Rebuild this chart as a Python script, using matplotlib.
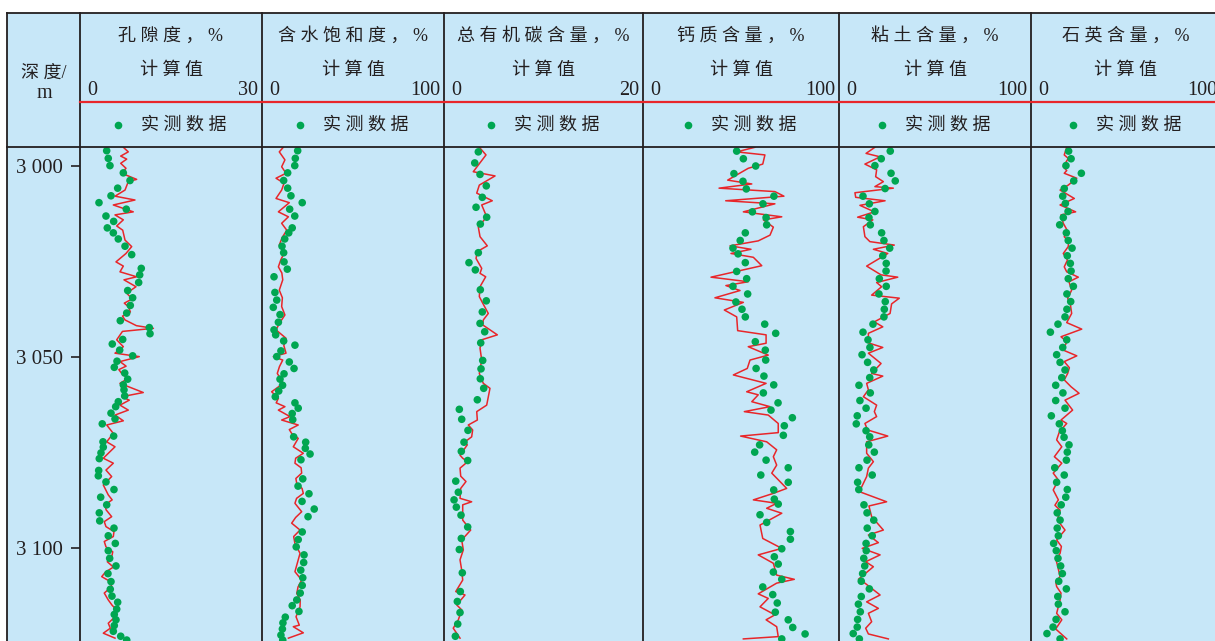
import matplotlib
matplotlib.use('Agg')
import matplotlib.pyplot as plt
from matplotlib.lines import Line2D
from matplotlib.patches import Rectangle

# Fonts: serif digits, CJK falls back to Noto Sans CJK
plt.rcParams['font.family'] = ['Liberation Serif', 'Noto Sans CJK SC']

# ---------------- data (depth in m, values in %) ----------------
# porosity
poro_dot_depth = [2996.0, 2998.0, 2999.9, 3001.8, 3003.8, 3005.8, 3007.8, 3009.6, 3011.3, 3013.1,
                  3014.5, 3016.2, 3017.5, 3019.1, 3021.0, 3023.2, 3026.8, 3028.5, 3030.5, 3032.6,
                  3034.5, 3036.5, 3038.5, 3040.5, 3042.3, 3043.9, 3045.4, 3046.6, 3048.2, 3049.7,
                  3051.1, 3052.7, 3054.2, 3055.8, 3057.3, 3058.6, 3060.2, 3061.7, 3063.0, 3064.7,
                  3066.2, 3067.5, 3070.7, 3072.2, 3073.6, 3075.1, 3076.6, 3079.7, 3081.1, 3082.7,
                  3084.7, 3086.7, 3088.7, 3090.8, 3092.9, 3094.8, 3096.8, 3098.8, 3100.7, 3102.7,
                  3104.7, 3106.7, 3108.8, 3110.8, 3112.6, 3114.2, 3116.0, 3117.4, 3118.8, 3120.3,
                  3121.8, 3123.1, 3124.1]
poro_dot = [4.40, 4.66, 4.94, 7.14, 8.24, 6.21, 5.11, 3.13, 7.63, 4.28,
            5.55, 4.50, 5.49, 6.31, 7.42, 8.52, 10.10, 9.84, 9.67, 7.86,
            8.68, 8.29, 7.70, 6.64, 11.42, 11.54, 7.04, 5.32, 6.54, 8.68,
            6.10, 5.65, 7.37, 7.86, 7.14, 7.25, 7.37, 6.31, 5.88, 5.11,
            5.77, 3.67, 5.55, 3.79, 3.84, 3.46, 3.18, 3.08, 3.02, 4.28,
            5.60, 3.41, 4.40, 3.18, 3.25, 5.60, 4.66, 5.82, 4.66, 4.89,
            5.93, 4.61, 5.11, 4.99, 5.27, 6.21, 6.05, 5.65, 5.93, 5.65,
            5.49, 6.71, 7.70]
poro_line_depth = [2995.1, 2996.3, 2997.4, 2998.2, 2999.3, 3000.6, 3001.9, 3003.5, 3004.1, 3006.3,
                   3007.9, 3008.9, 3010.2, 3012.0, 3012.8, 3014.1, 3015.7, 3016.8, 3019.4, 3021.1,
                   3022.9, 3025.1, 3026.2, 3027.7, 3029.0, 3029.8, 3031.6, 3033.3, 3034.8, 3035.9,
                   3036.8, 3038.2, 3039.3, 3040.3, 3041.8, 3042.5, 3043.3, 3045.5, 3047.3, 3049.0,
                   3049.9, 3051.2, 3052.4, 3053.3, 3054.3, 3055.6, 3056.9, 3059.3, 3060.4, 3061.3,
                   3062.6, 3063.9, 3065.2, 3066.7, 3067.8, 3070.0, 3072.2, 3073.5, 3076.5, 3077.8,
                   3079.6, 3081.3, 3083.5, 3086.1, 3087.4, 3088.7, 3090.0, 3091.8, 3093.1, 3094.4,
                   3095.7, 3097.0, 3098.3, 3099.7, 3101.0, 3102.3, 3103.6, 3105.0, 3106.3, 3107.5,
                   3108.8, 3110.1, 3111.8, 3113.6, 3115.0, 3116.2, 3117.8, 3119.7, 3121.0, 3122.3,
                   3123.6]
poro_line = [7.14, 7.96, 6.71, 7.70, 6.71, 7.58, 6.87, 9.34, 7.96, 7.42,
             5.77, 9.06, 5.49, 8.78, 5.77, 7.14, 6.05, 7.04, 7.42, 8.52,
             7.58, 5.93, 7.14, 6.59, 9.34, 7.25, 9.23, 7.70, 8.60, 7.30,
             7.96, 8.30, 7.00, 7.42, 9.30, 12.10, 7.00, 6.05, 7.14, 5.77,
             9.77, 6.59, 7.60, 6.40, 6.87, 7.90, 6.59, 10.43, 6.87, 8.12,
             6.59, 7.96, 5.77, 7.14, 4.40, 5.49, 4.40, 5.77, 3.84, 5.49,
             4.28, 5.22, 3.84, 4.66, 5.30, 4.12, 4.30, 5.22, 4.00, 4.28,
             5.60, 5.49, 4.00, 4.28, 5.40, 5.22, 4.50, 5.50, 4.20, 3.58,
             5.00, 5.22, 4.00, 4.66, 5.30, 6.05, 5.90, 4.66, 5.00, 3.84,
             5.77]

# water saturation
sw_dot_depth = [2996.0, 2998.0, 2999.9, 3001.8, 3003.8, 3005.8, 3007.8, 3009.6, 3011.3, 3013.1,
                3016.2, 3017.5, 3019.1, 3021.0, 3022.7, 3025.1, 3027.0, 3029.0, 3033.1, 3035.1,
                3037.0, 3038.9, 3040.9, 3042.9, 3044.2, 3045.8, 3046.9, 3048.4, 3049.9, 3051.3,
                3053.0, 3054.4, 3055.8, 3057.4, 3058.9, 3060.4, 3062.0, 3063.4, 3064.8, 3066.4,
                3070.9, 3072.3, 3073.9, 3075.4, 3076.9, 3081.9, 3083.8, 3085.8, 3087.8, 3089.8,
                3091.8, 3095.8, 3097.8, 3099.7, 3101.8, 3103.8, 3105.8, 3107.8, 3109.8, 3111.8,
                3113.6, 3115.1, 3116.6, 3118.1, 3119.6, 3121.2, 3122.8, 3124.1]
sw_dot = [19.6, 18.3, 18.0, 14.1, 11.9, 14.1, 15.9, 22.1, 15.2, 18.0,
          16.6, 14.7, 12.5, 11.0, 11.9, 12.1, 13.9, 6.6, 7.1, 8.1,
          6.2, 9.9, 9.0, 6.6, 7.5, 11.9, 18.1, 10.4, 8.1, 15.0,
          17.6, 12.1, 9.9, 11.3, 9.2, 7.3, 18.1, 19.9, 16.6, 16.9,
          17.4, 24.0, 23.8, 26.4, 21.4, 22.4, 19.8, 25.8, 22.0, 28.7,
          25.3, 22.1, 19.9, 18.8, 23.1, 22.9, 21.3, 22.4, 22.1, 21.0,
          19.1, 16.6, 20.3, 12.8, 11.5, 11.2, 10.4, 11.4]
sw_line_depth = [2995.1, 2996.3, 2998.4, 3000.2, 3001.9, 3003.2, 3004.5, 3006.3, 3008.5, 3009.6,
                 3012.0, 3013.3, 3015.0, 3016.8, 3018.8, 3020.7, 3022.9, 3024.6, 3026.4, 3028.0,
                 3029.8, 3032.5, 3034.5, 3036.8, 3039.0, 3041.0, 3042.9, 3045.1, 3047.0, 3049.0,
                 3049.9, 3050.8, 3052.5, 3054.3, 3056.9, 3059.1, 3060.8, 3062.0, 3063.0, 3063.9,
                 3065.6, 3066.5, 3067.8, 3069.0, 3070.0, 3071.3, 3073.5, 3075.2, 3076.5, 3077.8,
                 3079.0, 3080.4, 3081.8, 3083.1, 3084.4, 3085.7, 3087.0, 3088.3, 3090.5, 3092.0,
                 3093.5, 3095.3, 3097.0, 3098.8, 3101.4, 3103.8, 3106.2, 3108.4, 3110.2, 3111.9,
                 3113.6, 3115.4, 3118.0, 3120.2, 3120.6, 3122.2, 3123.6]
sw_line = [11.7, 9.5, 12.6, 10.8, 13.2, 7.7, 12.1, 10.8, 7.7, 15.0,
           9.0, 14.5, 10.8, 13.6, 11.0, 9.5, 12.1, 10.3, 9.0, 10.9,
           11.4, 9.5, 11.2, 10.8, 12.6, 9.8, 7.7, 13.2, 12.0, 13.2,
           6.2, 11.4, 9.6, 8.4, 11.7, 5.3, 9.0, 7.8, 12.6, 9.0,
           15.4, 10.8, 19.9, 15.0, 16.3, 19.9, 17.2, 22.7, 18.5, 18.1,
           21.5, 21.8, 18.6, 19.1, 22.0, 22.7, 19.0, 18.1, 21.8, 18.5,
           16.3, 20.9, 17.4, 18.1, 20.9, 19.5, 18.1, 21.8, 19.8, 19.1,
           21.0, 20.9, 18.7, 20.5, 17.2, 22.7, 14.5]

# total organic carbon
toc_dot_depth = [2996.3, 2999.2, 3002.2, 3005.2, 3008.2, 3010.8, 3013.4, 3015.2, 3022.7, 3025.3,
                 3027.2, 3032.4, 3035.3, 3038.2, 3041.2, 3043.4, 3046.3, 3050.9, 3053.1, 3055.7,
                 3058.2, 3061.2, 3063.7, 3066.3, 3069.2, 3072.3, 3074.7, 3077.1, 3082.5, 3085.4,
                 3087.4, 3089.3, 3091.4, 3094.5, 3097.5, 3100.4, 3106.5, 3111.4, 3114.0, 3116.9,
                 3119.9, 3123.1]
toc_dot = [3.45, 3.09, 3.62, 4.25, 3.85, 3.22, 4.29, 3.65, 3.45, 2.51,
           3.15, 3.65, 4.25, 3.85, 3.62, 4.09, 3.69, 3.89, 3.72, 3.65,
           3.99, 3.35, 1.54, 1.78, 2.41, 2.01, 1.74, 2.38, 1.18, 1.44,
           1.01, 1.24, 1.71, 2.38, 1.74, 1.54, 1.84, 1.64, 1.34, 1.61,
           1.38, 1.14]
toc_line_depth = [2995.1, 2997.1, 3001.5, 3002.6, 3005.0, 3007.1, 3009.1, 3010.2, 3013.3, 3016.0,
                  3018.5, 3020.9, 3022.4, 3024.2, 3026.8, 3028.1, 3029.0, 3031.6, 3034.2, 3035.9,
                  3038.6, 3040.3, 3041.6, 3044.2, 3045.5, 3047.7, 3050.8, 3054.3, 3056.9, 3058.2,
                  3062.6, 3064.3, 3066.5, 3067.8, 3069.1, 3070.9, 3072.2, 3073.0, 3075.7, 3076.5,
                  3077.4, 3079.1, 3081.2, 3082.6, 3084.4, 3087.0, 3087.9, 3088.7, 3092.7, 3095.3,
                  3097.9, 3100.5, 3103.1, 3105.8, 3108.4, 3111.4, 3112.3, 3114.9, 3116.2, 3118.8,
                  3121.0, 3123.6]
toc_line = [3.55, 4.22, 2.94, 5.13, 3.55, 3.29, 4.85, 3.79, 4.29, 3.45,
            3.62, 4.35, 3.35, 3.22, 3.79, 3.62, 4.19, 3.62, 3.55, 3.89,
            4.45, 3.95, 3.89, 5.36, 3.79, 3.62, 3.79, 3.55, 3.95, 4.62,
            4.29, 3.29, 3.35, 2.44, 2.88, 2.78, 2.11, 2.34, 1.61, 1.88,
            2.38, 1.61, 1.68, 2.21, 1.68, 1.61, 2.78, 1.88, 1.88, 2.68,
            1.78, 1.94, 1.61, 1.78, 1.88, 1.18, 2.11, 1.28, 1.78, 1.44,
            0.93, 1.61]

# calcite
calc_dot_depth = [2996.1, 2998.1, 3000.0, 3002.0, 3004.0, 3006.0, 3007.9, 3009.9, 3012.0, 3013.5,
                  3015.4, 3017.5, 3019.5, 3021.5, 3023.0, 3025.3, 3027.6, 3029.5, 3031.5, 3033.5,
                  3035.6, 3037.5, 3039.5, 3041.4, 3043.8, 3046.0, 3048.2, 3050.8, 3053.0, 3055.0,
                  3057.3, 3059.4, 3062.0, 3063.9, 3065.9, 3068.0, 3070.5, 3073.0, 3074.9, 3077.0,
                  3079.0, 3080.9, 3082.8, 3084.8, 3087.2, 3088.5, 3091.3, 3093.3, 3095.7, 3097.7,
                  3100.2, 3102.3, 3104.2, 3106.3, 3108.2, 3110.2, 3112.2, 3114.4, 3116.8, 3118.8,
                  3120.8, 3122.5, 3123.8]
calc_dot = [47.8, 51.2, 57.5, 46.4, 51.0, 52.7, 66.8, 61.2, 55.8, 62.8,
            63.1, 52.2, 49.6, 45.9, 48.5, 52.2, 47.8, 52.9, 45.9, 53.4,
            47.4, 50.5, 52.2, 62.1, 67.7, 57.3, 62.4, 62.6, 57.7, 61.7,
            66.7, 61.4, 68.9, 65.3, 76.2, 72.1, 71.6, 59.5, 57.0, 62.8,
            74.1, 60.1, 74.1, 66.7, 67.0, 69.0, 59.7, 63.1, 75.2, 75.2,
            70.8, 67.0, 69.0, 66.5, 70.8, 61.1, 66.2, 68.5, 67.5, 74.1,
            76.4, 82.7, 70.8]
calc_line_depth = [2995.1, 2996.3, 2997.1, 2999.5, 3000.6, 3003.7, 3004.7, 3005.8, 3006.7, 3007.9,
                   3009.1, 3009.9, 3012.0, 3013.3, 3014.1, 3016.0, 3018.1, 3019.6, 3020.9, 3021.8,
                   3022.9, 3023.9, 3026.1, 3029.1, 3030.3, 3031.3, 3032.6, 3034.5, 3035.7, 3037.7,
                   3039.5, 3043.1, 3044.2, 3046.4, 3047.3, 3049.5, 3050.8, 3053.0, 3054.7, 3056.9,
                   3059.1, 3059.9, 3061.7, 3063.0, 3064.3, 3065.2, 3067.4, 3069.8, 3070.7, 3072.2,
                   3074.3, 3076.1, 3078.3, 3080.4, 3084.4, 3085.7, 3087.4, 3088.3, 3089.6, 3090.9,
                   3094.0, 3097.5, 3100.1, 3101.8, 3104.0, 3107.1, 3108.2, 3109.2, 3112.0, 3113.2,
                   3115.4, 3117.5, 3118.8, 3120.6, 3123.2, 3123.8]
calc_line = [57.1, 47.8, 62.2, 61.1, 53.7, 43.2, 55.5, 38.8, 67.3, 71.9,
             42.2, 67.3, 51.2, 70.8, 61.4, 66.5, 64.8, 58.8, 44.4, 55.1,
             44.9, 56.3, 60.6, 34.7, 53.7, 42.3, 49.5, 36.7, 51.2, 41.5,
             47.8, 48.3, 62.8, 62.8, 53.7, 63.9, 54.6, 53.2, 46.1, 62.8,
             52.9, 58.8, 55.5, 64.8, 51.7, 63.9, 69.0, 69.0, 49.8, 63.1,
             68.2, 66.5, 68.2, 65.7, 73.3, 66.5, 56.3, 68.2, 63.1, 70.8,
             59.7, 61.1, 70.8, 58.8, 66.5, 68.2, 77.2, 68.2, 58.8, 63.9,
             59.7, 67.3, 62.8, 68.2, 69.0, 51.2]

# clay
clay_dot_depth = [2996.1, 2998.1, 2999.9, 3001.9, 3003.9, 3005.9, 3007.9, 3009.9, 3011.9, 3013.5,
                  3015.4, 3017.5, 3019.5, 3021.5, 3023.5, 3025.5, 3027.5, 3029.5, 3031.5, 3033.5,
                  3035.5, 3037.5, 3039.5, 3041.4, 3043.5, 3045.5, 3047.5, 3049.4, 3051.4, 3053.4,
                  3055.4, 3057.4, 3059.4, 3061.4, 3063.4, 3065.4, 3067.5, 3069.3, 3070.9, 3073.0,
                  3074.9, 3077.0, 3079.0, 3080.9, 3082.8, 3084.7, 3088.7, 3090.8, 3092.7, 3094.8,
                  3096.8, 3098.8, 3100.7, 3102.7, 3104.7, 3106.7, 3108.7, 3110.7, 3112.7, 3114.7,
                  3116.7, 3118.7, 3120.7, 3122.4, 3123.8]
clay_dot = [26.7, 22.0, 18.7, 27.1, 29.3, 24.0, 12.5, 15.8, 18.7, 15.6,
            16.3, 22.2, 23.4, 26.4, 22.8, 24.6, 24.5, 21.0, 24.6, 20.8,
            24.1, 23.6, 23.4, 17.7, 12.5, 15.1, 16.1, 12.0, 14.9, 18.1,
            16.0, 10.4, 16.3, 10.9, 14.1, 9.5, 9.0, 14.1, 16.0, 15.5,
            18.4, 14.6, 10.4, 17.3, 9.7, 10.3, 13.0, 14.6, 18.1, 14.7,
            17.3, 14.1, 14.2, 12.9, 13.4, 12.3, 11.6, 15.8, 11.6, 10.1,
            11.1, 9.7, 9.5, 7.4, 10.6]
clay_line_depth = [2995.1, 2996.7, 2997.6, 2999.5, 3001.0, 3002.8, 3004.1, 3005.4, 3005.8, 3007.0,
                   3008.2, 3009.1, 3010.3, 3012.0, 3013.4, 3014.1, 3015.9, 3018.5, 3019.8, 3020.7,
                   3021.8, 3022.9, 3026.2, 3028.5, 3029.1, 3030.5, 3031.6, 3033.8, 3034.6, 3036.1,
                   3038.6, 3040.8, 3042.1, 3043.8, 3046.3, 3047.5, 3049.0, 3051.7, 3054.3, 3055.0,
                   3056.9, 3058.6, 3060.4, 3062.6, 3064.3, 3065.6, 3067.4, 3069.1, 3070.7, 3072.2,
                   3075.2, 3077.4, 3079.1, 3081.3, 3084.0, 3085.3, 3087.9, 3089.0, 3091.8, 3095.3,
                   3096.6, 3098.6, 3100.1, 3101.8, 3103.6, 3104.9, 3108.2, 3109.2, 3112.3, 3114.1,
                   3115.8, 3117.1, 3119.3, 3121.0, 3122.5, 3123.8]
clay_line = [18.7, 14.1, 21.4, 13.5, 19.6, 19.1, 23.1, 18.7, 28.3, 8.3,
             8.7, 24.0, 10.9, 18.4, 9.7, 17.6, 12.7, 13.5, 16.1, 28.8,
             17.9, 25.4, 14.4, 21.9, 30.6, 19.6, 22.2, 17.0, 31.4, 27.4,
             26.6, 18.4, 22.8, 15.3, 15.3, 22.8, 15.3, 21.9, 17.0, 22.8,
             14.4, 15.3, 12.7, 19.6, 18.4, 19.6, 13.5, 14.9, 25.4, 14.4,
             14.4, 17.9, 15.3, 14.4, 11.8, 10.9, 24.8, 15.6, 17.0, 23.1,
             15.3, 20.5, 12.1, 21.4, 13.9, 17.9, 10.1, 13.5, 21.4, 14.4,
             20.5, 15.3, 17.0, 13.9, 15.3, 25.7]

# quartz
qtz_dot_depth = [2996.1, 2998.1, 2999.9, 3001.9, 3003.9, 3005.9, 3007.9, 3009.8, 3011.9, 3013.5,
                 3015.4, 3017.5, 3019.5, 3021.5, 3023.5, 3025.5, 3027.5, 3029.5, 3031.5, 3033.5,
                 3035.5, 3037.5, 3039.5, 3041.4, 3043.5, 3045.5, 3047.5, 3049.4, 3051.4, 3053.4,
                 3055.4, 3057.4, 3059.4, 3061.4, 3063.4, 3065.4, 3067.5, 3069.3, 3071.0, 3073.0,
                 3074.9, 3077.0, 3079.0, 3080.9, 3082.8, 3084.7, 3086.7, 3088.7, 3090.8, 3092.7,
                 3094.8, 3096.8, 3098.8, 3100.7, 3102.7, 3104.7, 3106.7, 3108.7, 3110.7, 3112.7,
                 3114.7, 3116.7, 3118.7, 3120.7, 3122.4, 3123.8]
qtz_dot = [19.8, 21.1, 18.4, 26.5, 22.5, 17.5, 16.7, 18.1, 19.5, 17.0,
           15.1, 18.6, 19.6, 21.6, 19.1, 20.7, 21.1, 19.6, 22.3, 18.9,
           20.9, 18.9, 17.9, 14.2, 10.2, 18.8, 16.7, 13.5, 15.3, 17.9,
           16.2, 13.0, 16.8, 13.0, 17.9, 10.7, 14.9, 16.5, 17.4, 20.0,
           19.1, 18.6, 12.5, 17.5, 13.5, 19.1, 18.3, 15.9, 13.8, 15.3,
           13.8, 14.4, 11.9, 13.3, 14.2, 15.6, 16.5, 14.6, 18.6, 14.1,
           14.4, 17.9, 13.2, 11.6, 8.4, 15.3]
qtz_line_depth = [2995.1, 2997.1, 2998.0, 3000.2, 3001.2, 3001.9, 3003.2, 3005.0, 3006.3, 3008.5,
                  3010.2, 3012.0, 3012.8, 3015.0, 3016.8, 3018.5, 3019.8, 3021.1, 3022.9, 3024.6,
                  3026.4, 3027.7, 3029.1, 3030.3, 3032.5, 3034.6, 3036.5, 3038.6, 3041.0, 3042.7,
                  3044.7, 3046.0, 3048.2, 3049.7, 3051.2, 3052.8, 3054.3, 3056.0, 3057.8, 3059.5,
                  3061.3, 3063.9, 3066.5, 3067.4, 3069.5, 3071.7, 3073.5, 3076.1, 3077.8, 3080.4,
                  3082.2, 3084.8, 3087.4, 3088.8, 3090.1, 3092.7, 3095.3, 3097.9, 3099.6, 3101.4,
                  3103.1, 3104.9, 3107.5, 3108.8, 3110.1, 3111.8, 3113.6, 3117.1, 3118.8, 3121.2,
                  3123.8]
qtz_line = [18.8, 17.5, 19.6, 17.0, 18.8, 17.5, 24.1, 19.6, 15.3, 22.8,
            15.3, 23.5, 15.8, 17.0, 19.0, 17.5, 19.8, 19.6, 17.0, 19.2,
            17.5, 18.8, 24.9, 20.0, 21.4, 19.3, 20.8, 21.4, 18.8, 26.7,
            15.8, 18.8, 17.0, 24.1, 17.5, 20.2, 19.3, 17.5, 21.1, 25.3,
            17.9, 21.9, 15.8, 18.8, 15.0, 13.5, 16.2, 12.3, 16.2, 11.7,
            14.4, 11.7, 14.4, 12.6, 15.3, 13.9, 17.9, 13.5, 16.0, 15.3,
            13.2, 14.1, 15.3, 13.0, 13.5, 15.8, 15.3, 13.5, 16.2, 13.0,
            18.8]

titles = ['孔 隙 度 ， %', '含 水 饱 和 度 ， %', '总 有 机 碳 含 量 ， %',
          '钙 质 含 量 ， %', '粘 土 含 量 ， %', '石 英 含 量 ， %']
scale_max = [30, 100, 20, 100, 100, 100]
tracks = [(poro_dot_depth, poro_dot, poro_line_depth, poro_line),
          (sw_dot_depth, sw_dot, sw_line_depth, sw_line),
          (toc_dot_depth, toc_dot, toc_line_depth, toc_line),
          (calc_dot_depth, calc_dot, calc_line_depth, calc_line),
          (clay_dot_depth, clay_dot, clay_line_depth, clay_line),
          (qtz_dot_depth, qtz_dot, qtz_line_depth, qtz_line)]
depth_ticks = [3000, 3050, 3100]
depth_tick_labels = ['3 000', '3 050', '3 100']

# ---------------- layout (pixels) ----------------
W, H = 1215, 641
bg = '#C7E7F8'
ink = '#231F20'
red = '#E8262A'
green = '#00A651'

track_edges = [80, 262, 444, 643, 839, 1031, 1221]
head_bottom = 147
table_top = 13


def fx(px):
    return px / W


def fy(py):
    return 1 - py / H


fig = plt.figure(figsize=(W / 100, H / 100), dpi=100)

# blue table background
fig.add_artist(Rectangle((fx(7), 0), 1.0, fy(table_top), transform=fig.transFigure,
                         facecolor=bg, edgecolor='none', zorder=0))

# track axes
y_top = 3000 + (head_bottom - 166) / 3.82
y_bot = 3000 + (H - 166) / 3.82
for i, (dd, dv, ld, lv) in enumerate(tracks):
    left, right = track_edges[i], track_edges[i + 1]
    ax = fig.add_axes([fx(left), 0, (right - left) / W, fy(head_bottom)])
    ax.set_facecolor('none')
    ax.set_xlim(0, scale_max[i])
    ax.set_ylim(y_bot, y_top)
    for s in ax.spines.values():
        s.set_visible(False)
    ax.set_xticks([])
    if i == 0:
        ax.set_yticks(depth_ticks)
        ax.set_yticklabels(depth_tick_labels)
        ax.tick_params(axis='y', direction='out', length=6.5, width=1.2, pad=5.5,
                       labelsize=15, colors=ink)
    else:
        ax.set_yticks([])
    ax.plot(lv, ld, color=red, lw=1.1, zorder=2)
    ax.scatter(dv, dd, s=30, color=green, edgecolors='none', zorder=3)

    # header text for the track
    c = (left + right) / 2
    fig.text(fx(c), fy(36), titles[i], ha='center', va='center', fontsize=13, color=ink)
    fig.text(fx(c), fy(70.5), '计 算 值', ha='center', va='center', fontsize=13, color=ink)
    fig.text(fx(left + 7), fy(95), '0', ha='left', va='baseline', fontsize=14.5, color=ink)
    fig.text(fx(right - 4), fy(95), str(scale_max[i]), ha='right', va='baseline',
             fontsize=14.5, color=ink)
    fig.add_artist(Line2D([fx(c - 53)], [fy(125)], marker='o', markersize=5.5,
                          color=green, markeredgewidth=0, linestyle='none'))
    fig.text(fx(c + 13), fy(125), '实 测 数 据', ha='center', va='center',
             fontsize=13, color=ink)

# depth column header
fig.text(fx(44), fy(73), '深 度/', ha='center', va='center', fontsize=13, color=ink)
fig.text(fx(44), fy(94), 'm', ha='center', va='center', fontsize=14.5, color=ink)

# table lines
for x in [7] + track_edges[:-1]:
    fig.add_artist(Line2D([fx(x), fx(x)], [fy(table_top), 0], color=ink, lw=1.3, zorder=5))
for y in [table_top, head_bottom]:
    fig.add_artist(Line2D([fx(7), 1.0], [fy(y), fy(y)], color=ink, lw=1.3, zorder=5))
fig.add_artist(Line2D([fx(80), 1.0], [fy(101.5), fy(101.5)], color=red, lw=1.6, zorder=5))

fig.savefig('out.png', dpi=100, facecolor='white')
